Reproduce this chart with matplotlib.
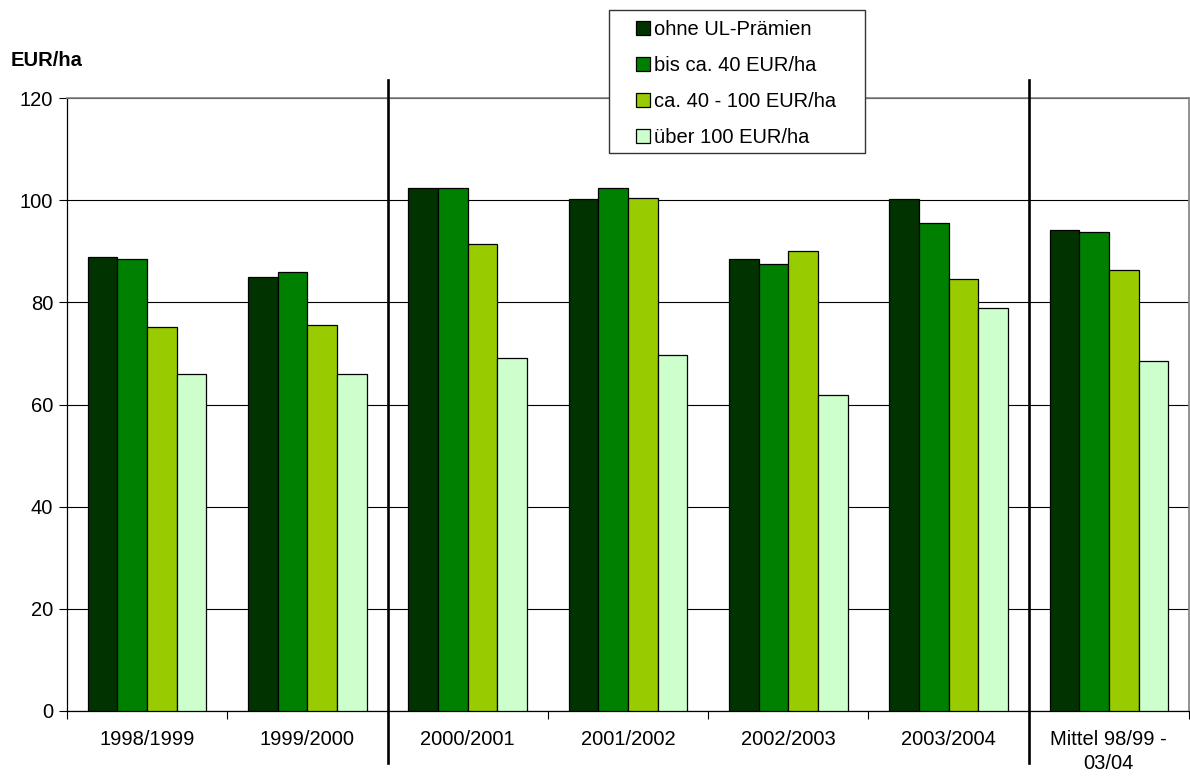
import matplotlib
matplotlib.use("Agg")
import matplotlib.pyplot as plt
import numpy as np
from matplotlib.patches import Patch, Rectangle

plt.rcParams['font.family'] = ['Liberation Sans', 'DejaVu Sans']

# Data (EUR/ha) by year and premium class
years = ['1998/1999', '1999/2000', '2000/2001', '2001/2002',
         '2002/2003', '2003/2004', 'Mittel 98/99 -\n03/04']
series_names = ['ohne UL-Prämien', 'bis ca. 40 EUR/ha',
                'ca. 40 - 100 EUR/ha', 'über 100 EUR/ha']
ohne_ul = [88.9, 84.9, 102.4, 100.2, 88.5, 100.3, 94.2]
bis_40 = [88.5, 85.9, 102.3, 102.3, 87.6, 95.5, 93.7]
von_40_100 = [75.2, 75.6, 91.5, 100.5, 90.1, 84.6, 86.3]
ueber_100 = [66.0, 66.0, 69.1, 69.7, 61.8, 78.9, 68.6]
colors = ['#003300', '#008000', '#99CC00', '#CCFFCC']

W, H = 1190, 776
fig = plt.figure(figsize=(W / 100, H / 100), dpi=100)
ax = fig.add_axes([67 / W, 1 - 711 / H, 1122 / W, 613 / H])

x = np.arange(len(years))
width = 0.185
all_series = [ohne_ul, bis_40, von_40_100, ueber_100]
for i, vals in enumerate(all_series):
    ax.bar(x + (i - 1.5) * width, vals, width, color=colors[i],
           edgecolor='black', linewidth=0.9, zorder=3)

ax.set_xlim(-0.5, len(years) - 0.5)
ax.set_ylim(0, 120)
ax.set_yticks(np.arange(0, 121, 20))
ax.yaxis.grid(True, color='black', linewidth=0.8, zorder=0)
ax.tick_params(axis='y', labelsize=14.5, length=6, width=0.8, pad=4)

ax.set_xticks(x)
ax.set_xticklabels(years, fontsize=14.5)
ax.get_xticklabels()[-1].set_linespacing(1.3)
ax.tick_params(axis='x', which='major', length=0, pad=14)
ax.set_xticks(np.arange(-0.5, len(years), 1.0), minor=True)
ax.tick_params(axis='x', which='minor', length=6, width=0.8)

for side in ['top', 'right']:
    ax.spines[side].set_color('#808080')
    ax.spines[side].set_linewidth(1.2)
for side in ['left', 'bottom']:
    ax.spines[side].set_color('black')
    ax.spines[side].set_linewidth(0.9)

# separators between period blocks
for xs in [1.5, 5.5]:
    ax.axvline(xs, ymin=-0.085, ymax=1.029, color='black', linewidth=1.9,
               clip_on=False, zorder=4)

fig.text(0.009, 1 - 60 / H, 'EUR/ha', ha='left', va='center',
         fontsize=14.5, fontweight='bold')

# legend box drawn separately so the padding can be set freely
frame = Rectangle((609 / W, 1 - 153 / H), 256 / W, 143 / H,
                  transform=fig.transFigure, facecolor='white',
                  edgecolor='#333333', linewidth=1.0, zorder=5)
fig.patches.append(frame)

handles = [Patch(facecolor=c, edgecolor='black', linewidth=0.9) for c in colors]
leg = fig.legend(handles, series_names, loc='upper left',
                 bbox_to_anchor=(636 / W, 1 - 20 / H),
                 bbox_transform=fig.transFigure,
                 fontsize=14.5, frameon=False,
                 handlelength=0.7, handleheight=0.7, handletextpad=0.2,
                 labelspacing=0.85, borderpad=0, borderaxespad=0)
leg.set_zorder(10)

fig.savefig('out.png', dpi=100)
